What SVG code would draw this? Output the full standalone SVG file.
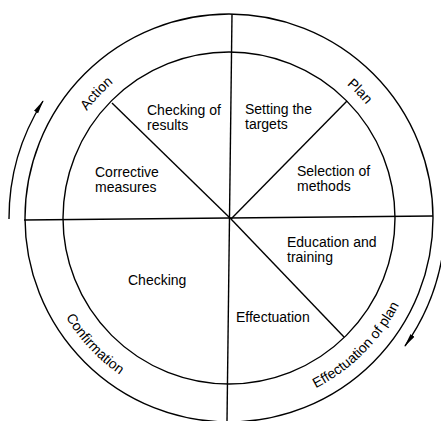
<svg xmlns="http://www.w3.org/2000/svg" width="441" height="421" viewBox="0 0 441 421">
  <style>
    .ln { fill: none; stroke: #000; stroke-width: 1.4; }
    .lbl { font-family: "Liberation Sans", Arial, sans-serif; font-size: 14px; fill: #000; }
    .ring { font-family: "Liberation Sans", Arial, sans-serif; font-size: 14px; fill: #000; }
  </style>
  <defs>
    <marker id="head" viewBox="0 0 14 6" refX="13" refY="3" markerWidth="14" markerHeight="6" markerUnits="userSpaceOnUse" orient="auto">
      <path d="M0,0.6 L14,3 L0,5.4 z" fill="#000"/>
    </marker>
    <!-- upper half of the ring, running clockwise (letters face outward) -->
    <path id="topArc" d="M 51 218 A 178 178 0 0 1 407 218"/>
    <!-- lower half of the ring, running counter-clockwise (letters face the centre) -->
    <path id="botArc" d="M 38 218 A 191 191 0 0 0 420 218"/>
  </defs>

  <rect width="441" height="421" fill="#fff"/>

  <!-- circles -->
  <g id="rings">
    <circle class="ln" cx="229" cy="218" r="204"/>
    <circle class="ln" cx="229" cy="218" r="166"/>
  </g>

  <!-- dividing lines and cycle arrows -->
  <g id="connectors">
    <line class="ln" x1="232" y1="14" x2="227" y2="421"/>
    <line class="ln" x1="24" y1="220" x2="433" y2="216"/>
    <line class="ln" x1="231" y1="219" x2="112" y2="103"/>
    <line class="ln" x1="231" y1="219" x2="347" y2="101"/>
    <line class="ln" x1="231" y1="219" x2="344" y2="337"/>
    <path class="ln" d="M 9 219 A 220 220 0 0 1 43 101" marker-end="url(#head)"/>
    <path class="ln" d="M 442 258 A 218 218 0 0 1 405 346" marker-end="url(#head)"/>
  </g>

  <!-- ring labels -->
  <g id="action"><text class="ring" text-anchor="middle"><textPath href="#topArc" startOffset="24%">Action</textPath></text></g>
  <g id="plan"><text class="ring" text-anchor="middle"><textPath href="#topArc" startOffset="75.5%">Plan</textPath></text></g>
  <g id="confirmation"><text class="ring" text-anchor="middle"><textPath href="#botArc" startOffset="24%">Confirmation</textPath></text></g>
  <g id="effectuation-of-plan"><text class="ring" text-anchor="middle"><textPath href="#botArc" startOffset="75%">Effectuation of plan</textPath></text></g>

  <!-- sector labels -->
  <g id="checking-of-results"><text class="lbl" x="147" y="115">Checking of</text><text class="lbl" x="147" y="130">results</text></g>
  <g id="corrective-measures"><text class="lbl" x="95" y="177">Corrective</text><text class="lbl" x="95" y="192">measures</text></g>
  <g id="setting-targets"><text class="lbl" x="245" y="114">Setting the</text><text class="lbl" x="245" y="129">targets</text></g>
  <g id="selection-methods"><text class="lbl" x="297" y="176">Selection of</text><text class="lbl" x="297" y="191">methods</text></g>
  <g id="education-training"><text class="lbl" x="287" y="247">Education and</text><text class="lbl" x="287" y="262">training</text></g>
  <g id="effectuation"><text class="lbl" x="236" y="322">Effectuation</text></g>
  <g id="checking"><text class="lbl" x="128" y="285">Checking</text></g>
</svg>
